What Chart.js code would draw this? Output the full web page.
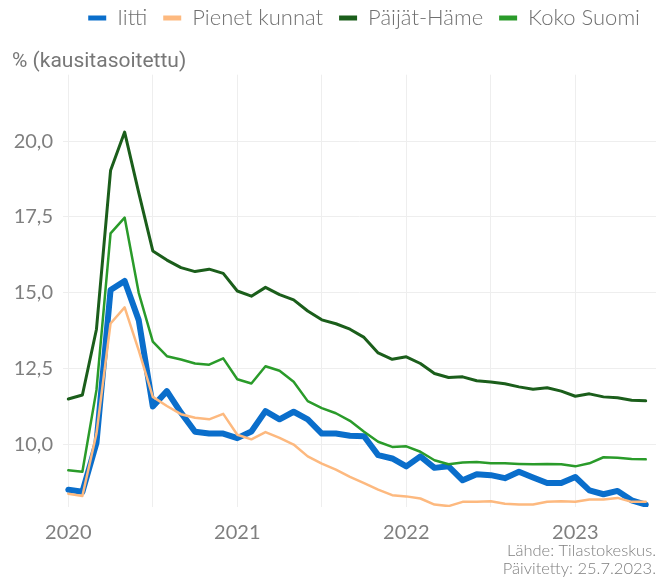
<!DOCTYPE html>
<html lang="fi">
<head>
<meta charset="utf-8">
<title>Työttömyysaste</title>
<script src="https://cdn.jsdelivr.net/npm/chart.js@4.4.0/dist/chart.umd.min.js"></script>
<style>
  html, body { margin: 0; padding: 0; background: #fff; }
  #wrap { width: 666px; height: 578px; }
</style>
</head>
<body>
<div id="wrap"><canvas id="chart"></canvas></div>
<script>
  // ======= data (kausitasoitettu, %) =======
  const kuukaudet = [
    '2020-01', '2020-02', '2020-03', '2020-04', '2020-05', '2020-06', '2020-07', '2020-08', '2020-09', '2020-10', '2020-11', '2020-12',
    '2021-01', '2021-02', '2021-03', '2021-04', '2021-05', '2021-06', '2021-07', '2021-08', '2021-09', '2021-10', '2021-11', '2021-12',
    '2022-01', '2022-02', '2022-03', '2022-04', '2022-05', '2022-06', '2022-07', '2022-08', '2022-09', '2022-10', '2022-11', '2022-12',
    '2023-01', '2023-02', '2023-03', '2023-04', '2023-05', '2023-06'
  ];

  const iitti = [8.51, 8.44, 10.05, 15.09, 15.39, 14.10, 11.25, 11.76, 11.05, 10.42, 10.36, 10.36,
    10.21, 10.43, 11.10, 10.83, 11.08, 10.83, 10.36, 10.36, 10.29, 10.27, 9.65, 9.54,
    9.28, 9.61, 9.23, 9.28, 8.82, 9.02, 8.99, 8.89, 9.10, 8.91, 8.73, 8.73,
    8.93, 8.49, 8.36, 8.47, 8.16, 8.02];

  const pienetKunnat = [8.38, 8.30, 10.36, 13.99, 14.52, 13.10, 11.57, 11.27, 11.00, 10.88, 10.83, 11.01,
    10.32, 10.17, 10.41, 10.22, 10.00, 9.61, 9.37, 9.17, 8.93, 8.73, 8.51, 8.33,
    8.29, 8.22, 8.02, 7.97, 8.11, 8.11, 8.13, 8.05, 8.02, 8.02, 8.11, 8.13,
    8.11, 8.19, 8.19, 8.24, 8.11, 8.11];

  const paijatHame = [11.50, 11.63, 13.80, 19.03, 20.30, 18.30, 16.38, 16.08, 15.83, 15.70, 15.78, 15.64,
    15.06, 14.89, 15.18, 14.94, 14.77, 14.40, 14.11, 13.98, 13.80, 13.53, 13.02, 12.81,
    12.89, 12.67, 12.34, 12.21, 12.23, 12.10, 12.06, 12.00, 11.90, 11.82, 11.87, 11.76,
    11.59, 11.67, 11.57, 11.54, 11.46, 11.44];

  const kokoSuomi = [9.15, 9.10, 11.80, 16.96, 17.48, 15.00, 13.39, 12.91, 12.80, 12.67, 12.63, 12.84,
    12.15, 12.01, 12.58, 12.43, 12.07, 11.43, 11.20, 11.03, 10.78, 10.42, 10.09, 9.92,
    9.94, 9.76, 9.48, 9.35, 9.41, 9.42, 9.38, 9.38, 9.36, 9.35, 9.36, 9.35,
    9.28, 9.38, 9.58, 9.56, 9.52, 9.51];

  const xTicks = [2020, 2020.5, 2021, 2021.5, 2022, 2022.5, 2023];
  const yTicks = [10, 12.5, 15, 17.5, 20];

  // ======= apufunktiot =======
  const toX = k => {
    const [v, m] = k.split('-').map(Number);
    return v + (m - 1) / 12;
  };
  const pisteet = arr => arr.map((y, i) => ({ x: toX(kuukaudet[i]), y }));

  const harmaa = '#7f7f7f';
  const grid = '#eeeeee';

  // lähdeteksti oikeaan alakulmaan
  const lahde = {
    id: 'lahde',
    afterDraw(chart) {
      const ctx = chart.ctx;
      ctx.save();
      ctx.font = '300 16.5px Lato';
      ctx.fillStyle = harmaa;
      ctx.textAlign = 'right';
      ctx.textBaseline = 'middle';
      ctx.fillText('Lähde: Tilastokeskus.', 656, 551);
      ctx.fillText('Päivitetty: 25.7.2023.', 656, 569);
      ctx.restore();
    }
  };

  new Chart(document.getElementById('chart'), {
    type: 'line',
    data: {
      datasets: [
        { label: 'Iitti', data: pisteet(iitti), borderColor: '#0a6ecb', backgroundColor: '#0a6ecb', borderWidth: 6, order: 4 },
        { label: 'Pienet kunnat', data: pisteet(pienetKunnat), borderColor: '#fdb97f', backgroundColor: '#fdb97f', borderWidth: 2.5, order: 3 },
        { label: 'Päijät-Häme', data: pisteet(paijatHame), borderColor: '#1b5e1b', backgroundColor: '#1b5e1b', borderWidth: 3, order: 2 },
        { label: 'Koko Suomi', data: pisteet(kokoSuomi), borderColor: '#2a9b2a', backgroundColor: '#2a9b2a', borderWidth: 2.5, order: 1 }
      ]
    },
    options: {
      responsive: true,
      maintainAspectRatio: false,
      animation: false,
      layout: { padding: { top: -9, right: 10, bottom: 0, left: 12 } },
      elements: {
        point: { radius: 0, hoverRadius: 0 },
        line: { tension: 0, borderJoinStyle: 'round', borderCapStyle: 'round' }
      },
      plugins: {
        tooltip: { enabled: false },
        legend: {
          position: 'top',
          align: 'end',
          labels: {
            color: '#707070',
            font: { family: 'Lato', size: 22, weight: '300' },
            boxWidth: 18,
            boxHeight: 5,
            padding: 16,
            sort: (a, b) => a.datasetIndex - b.datasetIndex,
            generateLabels: chart => Chart.defaults.plugins.legend.labels.generateLabels(chart)
              .map(l => ({ ...l, lineWidth: 0 }))
          }
        },
        title: {
          display: true,
          text: '% (kausitasoitettu)',
          align: 'start',
          position: 'top',
          weight: 500,
          color: '#777777',
          font: { family: 'Roboto', size: 21, weight: 'normal' },
          padding: { top: 10.5, bottom: 0 }
        }
      },
      scales: {
        x: {
          type: 'linear',
          min: 2019.9686,
          max: 2023.4775,
          afterBuildTicks: s => { s.ticks = xTicks.map(v => ({ value: v })); },
          afterFit: s => { s.height = 71; },
          ticks: {
            color: harmaa,
            font: { family: 'Lato', size: 20 },
            padding: 14,
            maxRotation: 0,
            autoSkip: false,
            callback: v => Number.isInteger(v) ? String(v) : ''
          },
          grid: { color: grid, lineWidth: 1, drawTicks: false },
          border: { display: false }
        },
        y: {
          min: 7.94,
          max: 22.19,
          afterBuildTicks: s => { s.ticks = yTicks.map(v => ({ value: v })); },
          afterFit: s => { s.width = 51; },
          ticks: {
            color: harmaa,
            font: { family: 'Lato', size: 20 },
            padding: 10,
            callback: v => v.toFixed(1).replace('.', ',')
          },
          grid: { color: grid, lineWidth: 1, drawTicks: false },
          border: { display: false }
        }
      }
    },
    plugins: [lahde]
  });
</script>
</body>
</html>
